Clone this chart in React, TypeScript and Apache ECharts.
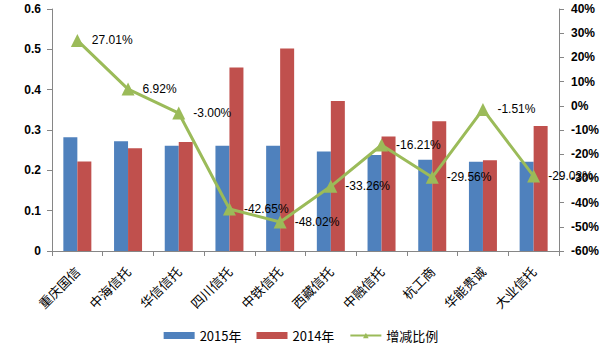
import React, { useEffect, useRef } from "react";
import * as echarts from "echarts";

const categories = ["重庆国信", "中海信托", "华信信托", "四川信托", "中铁信托", "西藏信托", "中融信托", "杭工商", "华能贵诚", "大业信托"];
const values2015 = [0.282, 0.272, 0.261, 0.261, 0.261, 0.247, 0.238, 0.226, 0.221, 0.221];
const values2014 = [0.222, 0.255, 0.27, 0.455, 0.502, 0.372, 0.284, 0.322, 0.225, 0.31];
const changePct = [27.01, 6.92, -3.0, -42.65, -48.02, -33.26, -16.21, -29.56, -1.51, -29.03];

const FONT = "'Noto Sans CJK SC', 'Liberation Sans', sans-serif";

export default function App() {
  const ref = useRef<HTMLDivElement>(null);
  useEffect(() => {
    if (!ref.current) return;
    const chart = echarts.init(ref.current, undefined, { renderer: "svg" });
    const axisLine = { show: true, lineStyle: { color: "#868686", width: 1 } };
    chart.setOption({
      animation: false,
      backgroundColor: "#fff",
      textStyle: { fontFamily: FONT },
      grid: { left: 52, right: 43, top: 9, bottom: 104, containLabel: false },
      legend: {
        bottom: 8,
        left: "center",
        itemWidth: 31,
        itemHeight: 7,
        itemGap: 15,
        textStyle: { fontSize: 13, color: "#000", fontFamily: FONT },
        data: [
          { name: "2015年", icon: "rect" },
          { name: "2014年", icon: "rect" },
          { name: "增减比例" },
        ],
      },
      xAxis: {
        type: "category",
        data: categories,
        axisLine,
        axisTick: { show: true, alignWithLabel: false, length: 5, lineStyle: { color: "#868686" } },
        axisLabel: { rotate: 45, fontSize: 13, color: "#000", margin: 18, interval: 0, fontFamily: FONT },
      },
      yAxis: [
        {
          type: "value",
          min: 0,
          max: 0.6,
          interval: 0.1,
          splitLine: { show: false },
          axisLine,
          axisTick: { show: true, length: 5, lineStyle: { color: "#868686" } },
          axisLabel: { fontSize: 12, color: "#000", margin: 11, fontFamily: "'Liberation Sans', sans-serif", fontWeight: "bold", formatter: (v: number) => (v === 0 ? "0" : v.toFixed(1)) },
        },
        {
          type: "value",
          min: -60,
          max: 40,
          interval: 10,
          position: "right",
          splitLine: { show: false },
          axisLine,
          axisTick: { show: true, length: 5, lineStyle: { color: "#868686" } },
          axisLabel: { fontSize: 12, color: "#000", margin: 12, fontFamily: "'Liberation Sans', sans-serif", fontWeight: "bold", formatter: (v: number) => `${v}%` },
        },
      ],
      series: [
        {
          name: "2015年",
          type: "bar",
          data: values2015,
          barWidth: 14,
          barGap: "0%",
          itemStyle: { color: "#4F81BD" },
        },
        {
          name: "2014年",
          type: "bar",
          data: values2014,
          barWidth: 14,
          barGap: "0%",
          itemStyle: { color: "#C0504D" },
        },
        {
          name: "增减比例",
          type: "line",
          yAxisIndex: 1,
          data: changePct,
          symbol: "triangle",
          symbolSize: 13,
          lineStyle: { color: "#9BBB59", width: 3 },
          itemStyle: { color: "#9BBB59" },
          label: {
            show: true,
            position: "right",
            distance: 8,
            fontSize: 12,
            color: "#000",
            fontFamily: "'Liberation Sans', sans-serif",
            formatter: (p: any) => `${Number(p.value).toFixed(2)}%`,
          },
        },
      ],
    });
    return () => chart.dispose();
  }, []);
  return <div ref={ref} style={{ width: 602, height: 355, position: "absolute", left: 0, top: 0 }} />;
}
